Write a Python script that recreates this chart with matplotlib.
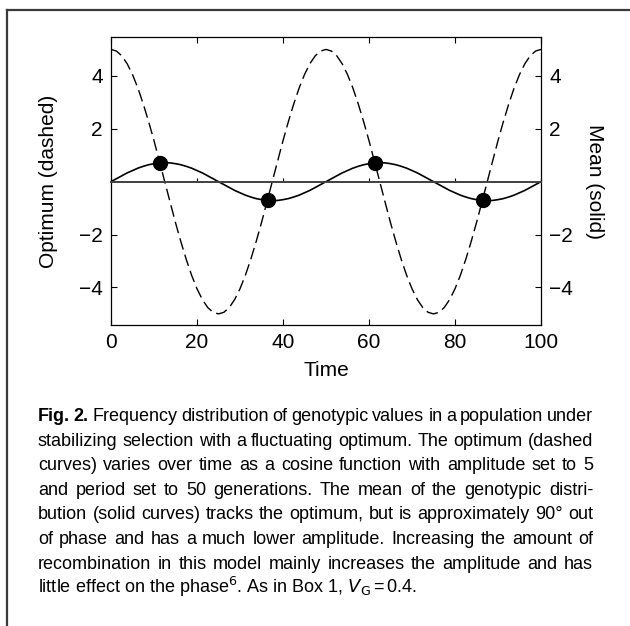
import matplotlib
matplotlib.use('Agg')
import matplotlib.pyplot as plt
from matplotlib.lines import Line2D

plt.rcParams['font.family'] = ['Liberation Sans', 'DejaVu Sans']
plt.rcParams['mathtext.fontset'] = 'custom'
plt.rcParams['mathtext.rm'] = 'Liberation Sans Narrow'
plt.rcParams['mathtext.it'] = 'Liberation Sans Narrow:italic'

# values, time step 1.25
time = [0, 1.25, 2.5, 3.75, 5, 6.25, 7.5, 8.75, 10, 11.25, 12.5, 13.75, 15, 16.25, 17.5,
        18.75, 20, 21.25, 22.5, 23.75, 25, 26.25, 27.5, 28.75, 30, 31.25, 32.5, 33.75, 35,
        36.25, 37.5, 38.75, 40, 41.25, 42.5, 43.75, 45, 46.25, 47.5, 48.75, 50,
        51.25, 52.5, 53.75, 55, 56.25, 57.5, 58.75, 60, 61.25, 62.5, 63.75, 65, 66.25, 67.5,
        68.75, 70, 71.25, 72.5, 73.75, 75, 76.25, 77.5, 78.75, 80, 81.25, 82.5, 83.75, 85,
        86.25, 87.5, 88.75, 90, 91.25, 92.5, 93.75, 95, 96.25, 97.5, 98.75, 100]
# one period (0-50); the second period (50-100) is the same
optimum_period = [5.00, 4.94, 4.76, 4.46, 4.05, 3.54, 2.94, 2.27, 1.55, 0.78, 0.00, -0.78,
                  -1.55, -2.27, -2.94, -3.54, -4.05, -4.46, -4.76, -4.94, -5.00, -4.94,
                  -4.76, -4.46, -4.05, -3.54, -2.94, -2.27, -1.55, -0.78, 0.00, 0.78, 1.55,
                  2.27, 2.94, 3.54, 4.05, 4.46, 4.76, 4.94, 5.00]
mean_period = [0.00, 0.11, 0.22, 0.33, 0.42, 0.51, 0.58, 0.64, 0.68, 0.71, 0.72, 0.71, 0.68,
               0.64, 0.58, 0.51, 0.42, 0.33, 0.22, 0.11, 0.00, -0.11, -0.22, -0.33, -0.42,
               -0.51, -0.58, -0.64, -0.68, -0.71, -0.72, -0.71, -0.68, -0.64, -0.58, -0.51,
               -0.42, -0.33, -0.22, -0.11, 0.00]
optimum = optimum_period + optimum_period[1:]
mean = mean_period + mean_period[1:]
cross_t = [11.4, 36.4, 61.4, 86.4]
cross_v = [0.71, -0.71, 0.71, -0.71]
xticks = [0, 20, 40, 60, 80, 100]
yticks = [-4, -2, 2, 4]

caption = [
    [("Fig.", "bold"), ("2.", "bold"), "Frequency", "distribution", "of", "genotypic", "values",
     "in", "a", "population", "under"],
    "stabilizing selection with a fluctuating optimum. The optimum (dashed".split(),
    "curves) varies over time as a cosine function with amplitude set to 5".split(),
    "and period set to 50 generations. The mean of the genotypic distri-".split(),
    "bution (solid curves) tracks the optimum, but is approximately 90° out".split(),
    "of phase and has a much lower amplitude. Increasing the amount of".split(),
    "recombination in this model mainly increases the amplitude and has".split(),
]
last_line = r"little effect on the phase$^{6}$. As in Box 1, $V_{\mathrm{G}}$$\,$=$\,$0.4."

W, H = 630, 626
fig = plt.figure(figsize=(6.3, 6.26), dpi=100)

# frame around the figure panel
fig.add_artist(Line2D([7 / W, 7 / W], [0, 1 - 10 / H], color='#3a3a3a', lw=1.6))
fig.add_artist(Line2D([7 / W, 1], [1 - 10 / H, 1 - 10 / H], color='#3a3a3a', lw=1.6))

pos = [111 / W, 1 - 325 / H, 430 / W, 288 / H]
ax = fig.add_axes(pos)
ax.plot(time, optimum, color='black', lw=1.0, dashes=(8.5, 3.8))
ax.set_xlim(0, 100)
ax.set_ylim(-5.42, 5.47)
ax.set_xticks(xticks)
ax.set_yticks(yticks)
ax.tick_params(direction='in', length=4, width=0.8, labelsize=15, pad=6,
               top=True, right=False)
for s in ax.spines.values():
    s.set_linewidth(0.9)
ax.set_xlabel('Time', fontsize=15, labelpad=6)
ax.set_ylabel('Optimum (dashed)', fontsize=15, labelpad=15)

ax2 = ax.twinx()
ax2.set_ylim(ax.get_ylim())
ax2.set_yticks(yticks)
ax2.tick_params(direction='in', length=4, width=0.8, labelsize=15, pad=6)
ax2.plot(time, mean, color='black', lw=1.2)
ax2.plot(cross_t, cross_v, 'o', color='black', ms=10, zorder=5)
ax2.set_ylabel('Mean (solid)', fontsize=15, rotation=270, labelpad=22)
for s in ax2.spines.values():
    s.set_visible(False)

# zero line with small tick marks
ax3 = fig.add_axes(pos, sharex=ax)
ax3.set_ylim(ax.get_ylim())
ax3.patch.set_visible(False)
for k in ['top', 'left', 'right']:
    ax3.spines[k].set_visible(False)
ax3.spines['bottom'].set_position(('data', 0))
ax3.spines['bottom'].set_linewidth(1.4)
ax3.spines['bottom'].set_color('#404040')
ax3.set_yticks([])
ax3.tick_params(axis='x', direction='in', length=3, width=0.8, labelbottom=False)

# caption, justified
cap_font = ['Liberation Sans Narrow', 'Liberation Sans']
cap_size = 13
x0, x1 = 38, 593
y_first = 421
dy = 24.6
renderer = fig.canvas.get_renderer()
for i, words in enumerate(caption):
    y = 1 - (y_first + i * dy) / H
    texts = []
    for w in words:
        weight = 'normal'
        if isinstance(w, tuple):
            w, weight = w
        t = fig.text(0, y, w, fontsize=cap_size, family=cap_font, weight=weight,
                     va='baseline', ha='left')
        texts.append(t)
    widths = [t.get_window_extent(renderer).width for t in texts]
    gap = (x1 - x0 - sum(widths)) / (len(texts) - 1)
    x = x0
    for t, wd in zip(texts, widths):
        t.set_x(x / W)
        x += wd + gap
fig.text(x0 / W, 1 - (y_first + 7 * dy) / H, last_line, fontsize=cap_size, family=cap_font,
         va='baseline', ha='left')

fig.savefig('out.png', dpi=100)
